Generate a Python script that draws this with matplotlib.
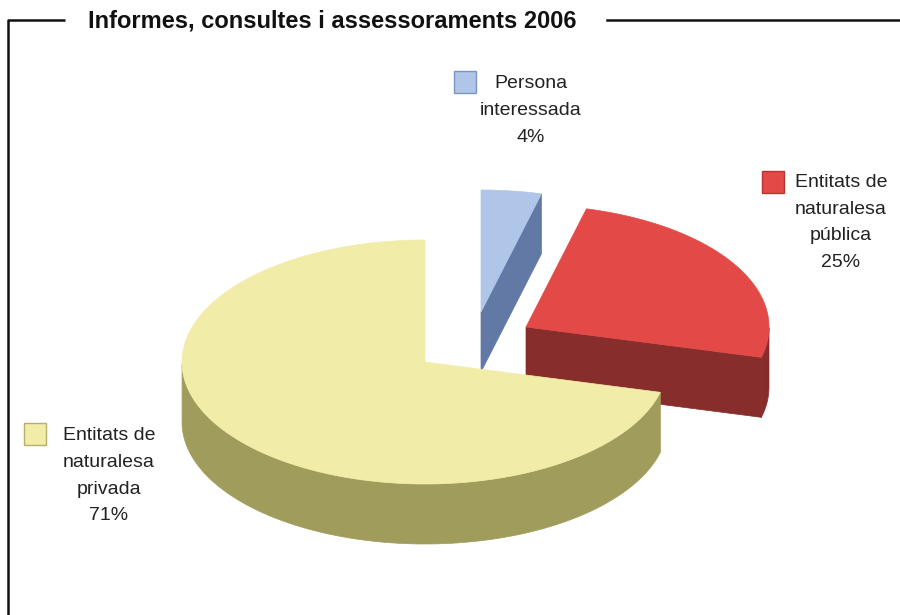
import numpy as np
import matplotlib.pyplot as plt
from matplotlib.patches import Polygon, Rectangle

# slices in drawing order, counter-clockwise from 12 o'clock
labels = ["Entitats de\nnaturalesa\nprivada", "Entitats de\nnaturalesa\npública", "Persona\ninteressada"]
shares = [71, 25, 4]
title = "Informes, consultes i assessoraments 2006"

top_colors = ["#f1eda9", "#e34a47", "#afc6e8"]
side_colors = ["#a09c5b", "#872e2c", "#6279a6"]
edge_colors = ["#b5b06a", "#b83532", "#7d93c0"]

# layout (pixel space)
cx, cy = 425, 362
ra, rb = 243, 122
depth = 60
explode = [(0, 0), (101, -35), (56, -50)]
label_pos = [(109, 437), (841, 184), (531, 85)]
marker_pos = [(24, 423), (762, 171), (454, 71)]


def rim(ox, oy, t, dz=0):
    return np.column_stack([ox + ra * np.cos(t), oy - rb * np.sin(t) + dz])


fig = plt.figure(figsize=(9, 6.15), dpi=100)
ax = fig.add_axes([0, 0, 1, 1])
ax.set_xlim(0, 900)
ax.set_ylim(615, 0)
ax.axis("off")

# frame
ax.plot([8, 8, 65], [615, 20, 20], color="#111111", lw=1.8, solid_capstyle="butt")
ax.plot([607, 900], [20, 20], color="#111111", lw=1.8)
ax.text(332, 21, title, ha="center", va="center", fontsize=17, fontweight="bold",
        family="Liberation Sans", color="#111111")

total = sum(shares)
start = np.pi / 2
angles = []
for v in shares:
    end = start + 2 * np.pi * v / total
    angles.append((start, end))
    start = end

# back to front: last slice first
for i in reversed(range(len(shares))):
    t1, t2 = angles[i]
    ox, oy = cx + explode[i][0], cy + explode[i][1]
    z = 3 - i
    # outer wall, front part only
    t = np.linspace(t1, t2, 200)
    front = t[np.sin(t) < 0]
    if len(front) > 1:
        poly = np.vstack([rim(ox, oy, front), rim(ox, oy, front[::-1], depth)])
        ax.add_patch(Polygon(poly, closed=True, fc=side_colors[i], ec=side_colors[i],
                             lw=0.5, zorder=z))
    # cut faces
    for ta, vis in ((t1, np.cos(t1) > 1e-6), (t2, np.cos(t2) < -1e-6)):
        if vis:
            p = rim(ox, oy, np.array([ta]))[0]
            poly = [(ox, oy), p, (p[0], p[1] + depth), (ox, oy + depth)]
            ax.add_patch(Polygon(poly, closed=True, fc=side_colors[i], ec=side_colors[i],
                                 lw=0.5, zorder=z))
    # top face
    poly = np.vstack([[ox, oy], rim(ox, oy, t)])
    ax.add_patch(Polygon(poly, closed=True, fc=top_colors[i], ec=top_colors[i],
                         lw=0.5, zorder=z + 0.5))

# labels
for i in range(len(shares)):
    mx, my = marker_pos[i]
    ax.add_patch(Rectangle((mx, my), 22, 22, fc=top_colors[i], ec=edge_colors[i], lw=1))
    lx, ly = label_pos[i]
    ax.text(lx, ly - 10, f"{labels[i]}\n{shares[i]}%", ha="center", va="top",
            multialignment="center", fontsize=14, linespacing=1.75,
            family="Liberation Sans", color="#222222")

fig.savefig("out.png", dpi=100)
